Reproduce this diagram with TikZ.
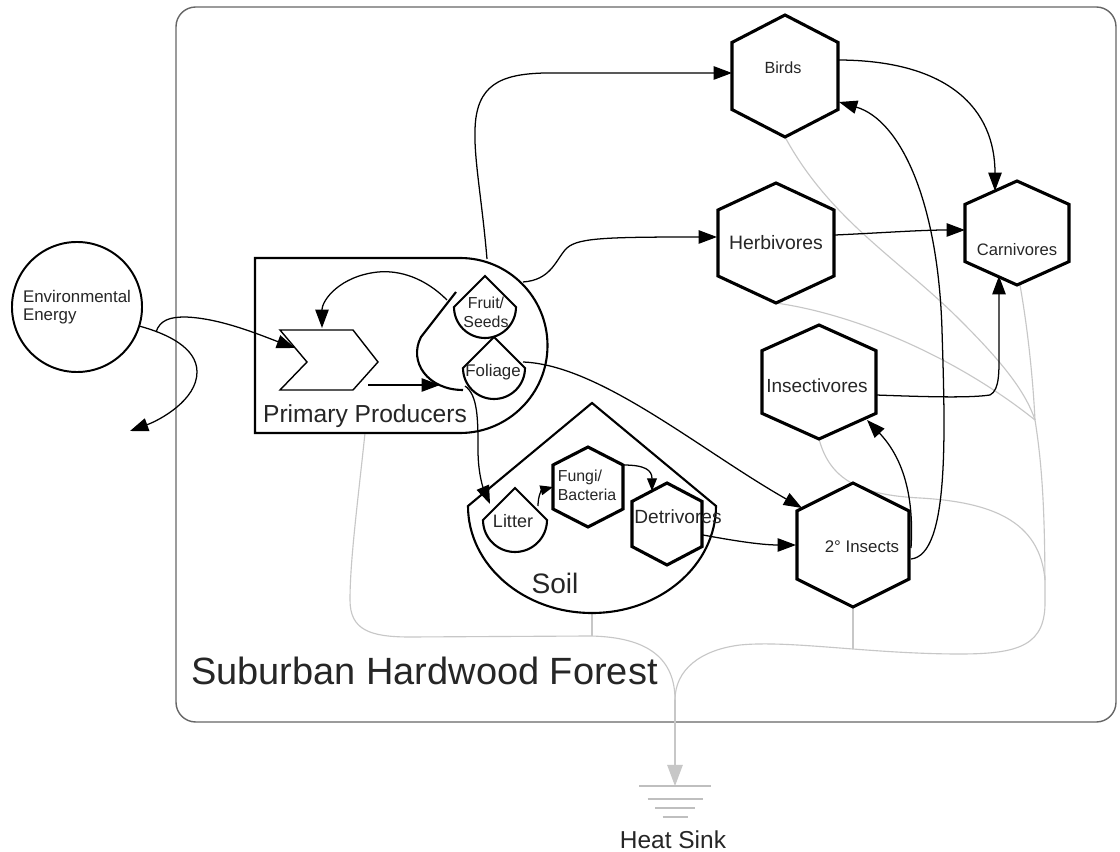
\documentclass[tikz,border=0pt]{standalone}
\usepackage{fontspec}
\setmainfont{Liberation Sans}
\usetikzlibrary{arrows.meta,calc}

% pointy-top hexagon around a named centre: #1 centre, #2 half width, #3 half height
\newcommand\hexagonat[3]{%
  \draw[hexline] (#1) ++(0,-#3) -- ++(#2,0.45*#3) -- ++(0,1.1*#3)
    -- ++(-#2,0.45*#3) -- ++(-#2,-0.45*#3) -- ++(0,-1.1*#3) -- cycle;}

\begin{document}
\begin{tikzpicture}[x=0.025cm,y=-0.025cm,
  lbl/.style={inner sep=0pt, text=black!85, align=center},
  flow/.style={line width=0.9pt, -{Triangle[length=13pt,width=9.5pt]}},
  smallflow/.style={line width=0.9pt, -{Triangle[length=9pt,width=7pt]}},
  heatline/.style={draw=black!22, line width=0.8pt},
  heatflow/.style={draw=black!22, line width=0.8pt, -{Triangle[length=15pt,width=11pt]}},
  hexline/.style={line width=2.2pt, fill=white},
  tankline/.style={line width=1.5pt, fill=white},
  boundary/.style={line width=1.5pt}]

\useasboundingbox (0,0) rectangle (1120,852);
\fill[white] (0,0) rectangle (1120,852);

% ---------- centres of the shapes ----------
\coordinate (prod)    at (460,346);
\coordinate (chev)    at (329,360);
\coordinate (store)   at (455,350);
\coordinate (fruit)   at (485,307);
\coordinate (foliage) at (494,368);
\coordinate (soil)    at (592,506);
\coordinate (litter)  at (515,520);
\coordinate (fungiC)  at (588,487);
\coordinate (detrC)   at (667,524);
\coordinate (birdsC)  at (785,76);
\coordinate (herbC)   at (776,243);
\coordinate (carnC)   at (1017,233);
\coordinate (insvC)   at (819,382);
\coordinate (ins2C)   at (853,545);
\coordinate (hsj)     at (675,700);
\coordinate (sink)    at (675,786);
\coordinate (trunk)   at (1035,420);

% ---------- system boundary ----------
\draw[black!60, line width=1pt, rounded corners=14pt] (176,7) rectangle (1116,722);

% ---------- heat losses to the sink ----------
\draw[heatline] ($(prod)+(-95,87)$) .. controls (358,500) and (350,560) .. (350,600)
  .. controls (350,630) and (370,637) .. (410,637) -- (590,636)
  .. controls (650,637) and (675,660) .. (hsj);
\draw[heatline] ($(soil)+(0,107)$) -- (592,636);
\draw[heatline] ($(ins2C)+(0,62)$) -- (853,649);
\draw[heatline] ($(birdsC)+(0,61)$) .. controls (830,220) and (900,260) .. (960,320)
  .. controls (1000,360) and (1025,390) .. (trunk);
\draw[heatline] ($(herbC)+(0,60)$) .. controls (860,315) and (960,360) .. (trunk);
\draw[heatline] ($(carnC)+(3,52)$) .. controls (1028,330) and (1033,380) .. (trunk);
\draw[heatline] ($(insvC)+(0,57)$) .. controls (830,480) and (860,495) .. (920,498)
  .. controls (990,502) and (1040,520) .. (1045,580);
\draw[heatline] (trunk) .. controls (1043,470) and (1045,520) .. (1045,600)
  .. controls (1046,645) and (1020,654) .. (960,654)
  .. controls (870,654) and (790,640) .. (740,645)
  .. controls (700,650) and (675,670) .. (hsj);
\draw[heatflow] (hsj) -- (sink);
\foreach \w/\dy in {36/0, 27.5/13, 20/22, 12.5/31}
  \draw[black!25, line width=1pt] ($(sink)+(-\w,\dy)$) -- ($(sink)+(\w,\dy)$);

% ---------- primary producers ----------
\draw[boundary, fill=white] (460,258) -- (255,258) -- (255,433) -- (460,433)
  arc[start angle=90, end angle=-90, radius=87.5] -- cycle;
\draw[line width=1pt] (280,330) -- (353,330) -- (378,362) -- (353,390) -- (280,390) -- (307,362) -- cycle;
\draw[boundary] (456,292) -- (421,337) .. controls (408,362) and (428,390) .. (463,390);
\draw[tankline] (485,276) -- (516,307) arc[start angle=0, end angle=180, radius=31] -- cycle;
\draw[tankline] (494,337) -- (525,368) arc[start angle=0, end angle=180, radius=31] -- cycle;

% ---------- soil ----------
\draw[boundary] (592,403) -- (716,506) arc[start angle=0, end angle=180, x radius=124, y radius=107] -- cycle;
\draw[tankline] (515,488) -- (547,520) arc[start angle=0, end angle=180, radius=32] -- cycle;
\hexagonat{fungiC}{35}{40}
\hexagonat{detrC}{35}{41}

% ---------- consumers ----------
\hexagonat{birdsC}{53}{61}
\hexagonat{herbC}{58}{60}
\hexagonat{carnC}{52}{52}
\hexagonat{insvC}{57}{57}
\hexagonat{ins2C}{56}{62}

% ---------- labels ----------
\node[circle, draw, line width=1.4pt, minimum size=3.25cm, inner sep=0pt, align=left,
  text=black!85, font=\fontsize{12}{12.8}\selectfont] (env) at (77,307) {Environmental\\Energy};
\node[lbl, anchor=base west, font=\fontsize{27}{31}\selectfont] (forest) at (191,684) {Suburban Hardwood Forest};
\node[lbl, anchor=base, font=\fontsize{17.5}{20}\selectfont] (prodlbl) at (365,423) {Primary Producers};
\node[lbl, anchor=base, font=\fontsize{20}{24}\selectfont] (soillbl) at (555,593) {Soil};
\node[lbl, anchor=base, font=\fontsize{17.4}{20}\selectfont] (sinklbl) at (673,848) {Heat Sink};
\node[lbl, font=\fontsize{11.3}{13.5}\selectfont] (fruitlbl) at (486,312) {Fruit/\\Seeds};
\node[lbl, font=\fontsize{12}{14}\selectfont] (foliagelbl) at (493,372) {Foliage};
\node[lbl, font=\fontsize{12.8}{15}\selectfont] (litterlbl) at (513,521) {Litter};
\node[lbl, align=left, font=\fontsize{11.3}{13.5}\selectfont] (fungi) at (587,485) {Fungi/\\Bacteria};
\node[lbl, font=\fontsize{13.6}{16}\selectfont] (detr) at (678,517) {Detrivores};
\node[lbl, font=\fontsize{11.5}{14}\selectfont] (birds) at (783,68) {Birds};
\node[lbl, font=\fontsize{13.8}{16}\selectfont] (herb) at (776,243) {Herbivores};
\node[lbl, font=\fontsize{11.8}{14}\selectfont] (carn) at (1017,250) {Carnivores};
\node[lbl, font=\fontsize{13.5}{16}\selectfont] (insv) at (817,386) {Insectivores};
\node[lbl, font=\fontsize{12}{14}\selectfont] (ins2) at (862,547) {2° Insects};

% ---------- energy flows ----------
\coordinate (split) at (156,332);
\draw[flow] (env.-17) .. controls (168,334) and (197,348) .. (197,372)
  .. controls (197,400) and (160,420) .. (130,431);
\draw[flow] (split) .. controls (160,320) and (170,317) .. (185,317)
  .. controls (220,318) and (260,335) .. ($(chev)+(-34,-12)$);
\draw[flow] ($(chev)+(39,25)$) -- ($(store)+(-15,35)$);
\draw[flow] ($(fruit)+(-38,-7)$) .. controls (425,278) and (400,270) .. (378,272)
  .. controls (340,276) and (322,300) .. ($(chev)+(-7,-32)$);
\draw[flow] ($(prod)+(27,-87)$) .. controls (482,200) and (474,160) .. (475,130)
  .. controls (476,85) and (500,74) .. (545,73) -- ($(birdsC)+(-53,-3)$);
\draw[flow] ($(prod)+(63,-64)$) .. controls (550,280) and (555,262) .. (565,250)
  .. controls (575,238) and (600,237) .. ($(herbC)+(-59,-6)$);
\draw[flow] ($(foliage)+(29,-6)$) .. controls (600,365) and (700,450) .. ($(ins2C)+(-51,-37)$);
\draw[flow] ($(foliage)+(-29,18)$) .. controls (478,395) and (478,420) .. (478,450)
  .. controls (478,475) and (484,490) .. ($(litter)+(-25,-16)$);
\draw[smallflow] ($(litter)+(23,-14)$) .. controls (538,495) and (542,490) .. ($(fungiC)+(-35,0)$);
\draw[smallflow] ($(fungiC)+(35,-22)$) .. controls (645,465) and (652,470) .. ($(detrC)+(-15,-33)$);
\draw[flow] ($(detrC)+(36,11)$) .. controls (730,540) and (760,545) .. ($(ins2C)+(-57,0)$);
\draw[flow] ($(birdsC)+(52,-16)$) .. controls (950,60) and (995,110) .. ($(carnC)+(-22,-42)$);
\draw[flow] ($(herbC)+(59,-8)$) .. controls (880,233) and (920,230) .. ($(carnC)+(-52,-3)$);
\draw[flow] ($(insvC)+(57,13)$) .. controls (930,397) and (970,398) .. (990,395)
  .. controls (1000,390) and (999,370) .. (999,350) -- ($(carnC)+(-18,43)$);
\draw[flow] ($(ins2C)+(58,3)$) .. controls (914,500) and (905,460) .. ($(insvC)+(48,38)$);
\draw[flow] ($(ins2C)+(58,14)$) .. controls (950,555) and (945,430) .. (942,330)
  .. controls (938,200) and (900,120) .. ($(birdsC)+(54,26)$);
\end{tikzpicture}
\end{document}
